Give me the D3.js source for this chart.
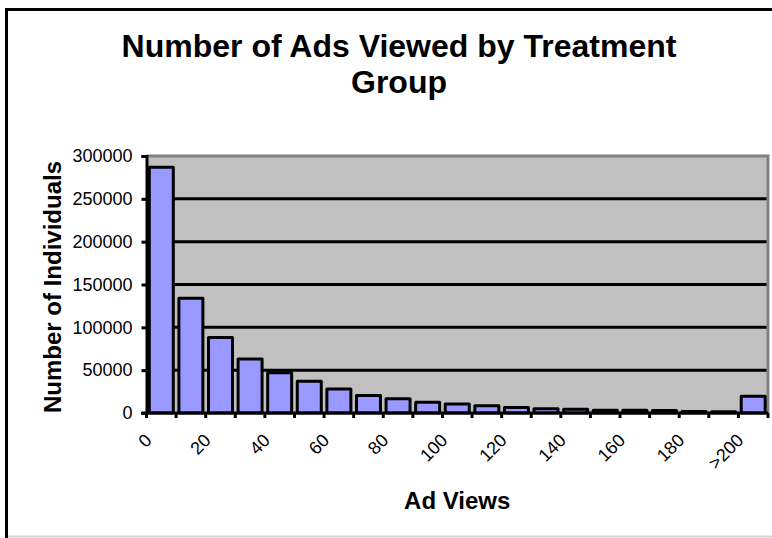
<!DOCTYPE html>
<html>
<head>
<meta charset="utf-8">
<script src="https://cdn.jsdelivr.net/npm/d3@7"></script>
<style>
  html, body { margin: 0; padding: 0; background: #fff; }
  svg { display: block; }
  text { font-family: "Liberation Sans", Arial, sans-serif; }
</style>
</head>
<body>
<svg id="chart" width="772" height="538"></svg>
<script>
// ---- data ----
const categories = ["0","10","20","30","40","50","60","70","80","90","100","110","120","130","140","150","160","170","180","190",">200"];
const individuals = [287000,134000,88000,63000,47000,37000,28000,20500,16500,12500,10500,8500,6500,5000,4500,3300,3200,3000,1800,1500,19500];
const xTickLabels = ["0","20","40","60","80","100","120","140","160","180",">200"];
const yTickValues = [0,50000,100000,150000,200000,250000,300000];
const titleLines = ["Number of Ads Viewed by Treatment","Group"];
const xTitle = "Ad Views";
const yTitle = "Number of Individuals";

// ---- layout ----
const svg = d3.select("#chart");
const W = 772, H = 538;
const plot = { left: 146.5, right: 768, top: 156, bottom: 413 };

// outer chart border
svg.append("line").attr("x1", 8).attr("x2", W).attr("y1", 536.5).attr("y2", 536.5)
  .attr("stroke", "#d4d4d4").attr("stroke-width", 2);
svg.append("path").attr("d", `M6.5,${H} V9.5 H${W}`)
  .attr("fill", "none").attr("stroke", "#000").attr("stroke-width", 3);

// title
const title = svg.append("text").attr("text-anchor", "middle")
  .attr("font-weight", "bold").attr("font-size", 32).attr("fill", "#000");
title.append("tspan").attr("x", 399).attr("y", 57).text(titleLines[0]);
title.append("tspan").attr("x", 399).attr("y", 93).text(titleLines[1]);

// scales
const x = d3.scaleBand().domain(categories).range([plot.left, plot.right]).padding(0);
const y = d3.scaleLinear().domain([0, 300000]).range([plot.bottom, plot.top]);

// plot area background
svg.append("rect").attr("x", plot.left).attr("y", plot.top)
  .attr("width", plot.right - plot.left).attr("height", plot.bottom - plot.top)
  .attr("fill", "#C0C0C0");
// plot border (gray)
svg.append("path").attr("d", `M${plot.left},${y(300000)} H${plot.right} V${plot.bottom}`)
  .attr("fill", "none").attr("stroke", "#808080").attr("stroke-width", 3);

// gridlines
svg.append("g").selectAll("line")
  .data(yTickValues.filter(v => v > 0 && v < 300000))
  .join("line")
  .attr("x1", plot.left).attr("x2", plot.right - 1.5)
  .attr("y1", d => y(d)).attr("y2", d => y(d))
  .attr("stroke", "#000").attr("stroke-width", 3);

// bars
const inset = 2.8;
svg.append("g").selectAll("rect")
  .data(categories.map((c, i) => ({ c, v: individuals[i] })))
  .join("rect")
  .attr("x", d => x(d.c) + inset)
  .attr("width", x.bandwidth() - 2 * inset)
  .attr("y", d => y(d.v))
  .attr("height", d => y(0) - y(d.v))
  .attr("fill", "#9999FF")
  .attr("stroke", "#000").attr("stroke-width", 3)
  .attr("stroke-linejoin", "round");

// y axis
const yAxis = d3.axisLeft(y).tickValues(yTickValues).tickFormat(d3.format("d"))
  .tickSize(5).tickPadding(9);
const gy = svg.append("g").attr("transform", `translate(${plot.left},0)`).call(yAxis);
gy.select(".domain").attr("stroke", "#000").attr("stroke-width", 3);
gy.selectAll(".tick line").attr("stroke", "#000").attr("stroke-width", 3);
gy.selectAll(".tick text").attr("font-size", 18).attr("fill", "#000")
  .attr("font-family", "'Liberation Sans', Arial, sans-serif");

// x axis baseline + ticks at category boundaries
const boundaries = categories.map(c => x(c)).concat([plot.right]);
svg.append("line").attr("x1", plot.left - 5).attr("x2", plot.right)
  .attr("y1", y(0)).attr("y2", y(0)).attr("stroke", "#000").attr("stroke-width", 3);
svg.append("g").selectAll("line").data(boundaries).join("line")
  .attr("x1", d => d).attr("x2", d => d)
  .attr("y1", y(0)).attr("y2", y(0) + 5)
  .attr("stroke", "#000").attr("stroke-width", 3);

// x tick labels (every other category, rotated)
svg.append("g").selectAll("text")
  .data(categories.filter(c => xTickLabels.includes(c)))
  .join("text")
  .attr("transform", d => `translate(${x(d) + x.bandwidth() / 2 - 13},437) rotate(-45)`)
  .attr("text-anchor", "end").attr("dy", "0.35em")
  .attr("font-size", 18).attr("fill", "#000")
  .text(d => d);

// axis titles
svg.append("text").attr("x", (plot.left + plot.right) / 2).attr("y", 509)
  .attr("text-anchor", "middle").attr("font-weight", "bold").attr("font-size", 24)
  .text(xTitle);
svg.append("text").attr("transform", `translate(61,287) rotate(-90)`)
  .attr("text-anchor", "middle").attr("font-weight", "bold").attr("font-size", 24)
  .text(yTitle);
</script>
</body>
</html>
